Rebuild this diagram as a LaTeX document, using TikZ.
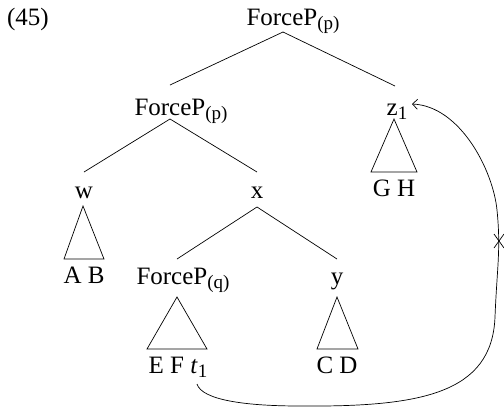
\documentclass[tikz,border=0pt]{standalone}
\usepackage{fontspec}
\setmainfont{Liberation Serif}
\usetikzlibrary{arrows.meta}
\newcommand{\sbs}[1]{\raisebox{-4.5pt}{\fontsize{19}{20}\selectfont #1}}
\tikzset{
  lbl/.style={anchor=base, inner sep=0pt, font=\fontsize{25}{30}\selectfont},
  edge/.style={line width=0.7pt},
  tri/.style={line width=0.7pt, line join=miter},
}
\begin{document}
\begin{tikzpicture}[x=1pt,y=-1pt]
\useasboundingbox (0,0) rectangle (504,413);
% labels
\node[lbl] (n45) at (28,25) {(45)};
\node[lbl] (root) at (293,25) {ForceP\sbs{(p)}};
\node[lbl] (fp2) at (181,115) {ForceP\sbs{(p)}};
\node[lbl] (z1) at (397,115) {z\sbs{1}};
\node[lbl] (w) at (84,198) {w};
\node[lbl] (x) at (257,198) {x};
\node[lbl] (ab) at (84,283) {A B};
\node[lbl] (gh) at (394,196) {G H};
\node[lbl] (fpq) at (183,284) {ForceP\sbs{(q)}};
\node[lbl] (y) at (337,284) {y};
\node[lbl] (eft) at (178,373) {E F \textit{t}\sbs{1}};
\node[lbl] (cd) at (337,373) {C D};
% branch points
\coordinate (rootb) at (283,32);
\coordinate (fp2t) at (170,85);
\coordinate (z1t) at (395,86);
\coordinate (fp2b) at (170,119);
\coordinate (wt) at (84,172);
\coordinate (xt) at (257,172);
\coordinate (xb) at (257,207);
\coordinate (fpqt) at (177,259);
\coordinate (yt) at (337,259);
\draw[edge] (fp2t) -- (rootb) -- (z1t);
\draw[edge] (wt) -- (fp2b) -- (xt);
\draw[edge] (fpqt) -- (xb) -- (yt);
% triangles
\coordinate (z1a) at (394,119);
\coordinate (wa) at (83,206);
\coordinate (fpqa) at (177,297);
\coordinate (ya) at (337,297);
\draw[tri] (z1a) -- (371,172) -- (417,172) -- cycle;
\draw[tri] (wa) -- (64,259) -- (104,259) -- cycle;
\draw[tri] (fpqa) -- (147,349) -- (207,349) -- cycle;
\draw[tri] (ya) -- (317,349) -- (358,349) -- cycle;
% movement arrow
\coordinate (tstart) at (197,384);
\coordinate (zend) at (412,104);
\coordinate (cross) at (499,241);
\draw[edge, -{Straight Barb[length=5pt,width=10pt]}] (tstart)
  .. controls (202,400) and (245,406) .. (300,406)
  .. controls (420,407) and (492,394) .. (495,317)
  .. controls (497,267) and (501,250) .. (497,210)
  .. controls (493,170) and (460,106) .. (zend);
\draw[edge] ([shift={(-5,-7)}]cross) -- ([shift={(5,7)}]cross);
\draw[edge] ([shift={(-5,7)}]cross) -- ([shift={(5,-7)}]cross);
\end{tikzpicture}
\end{document}
